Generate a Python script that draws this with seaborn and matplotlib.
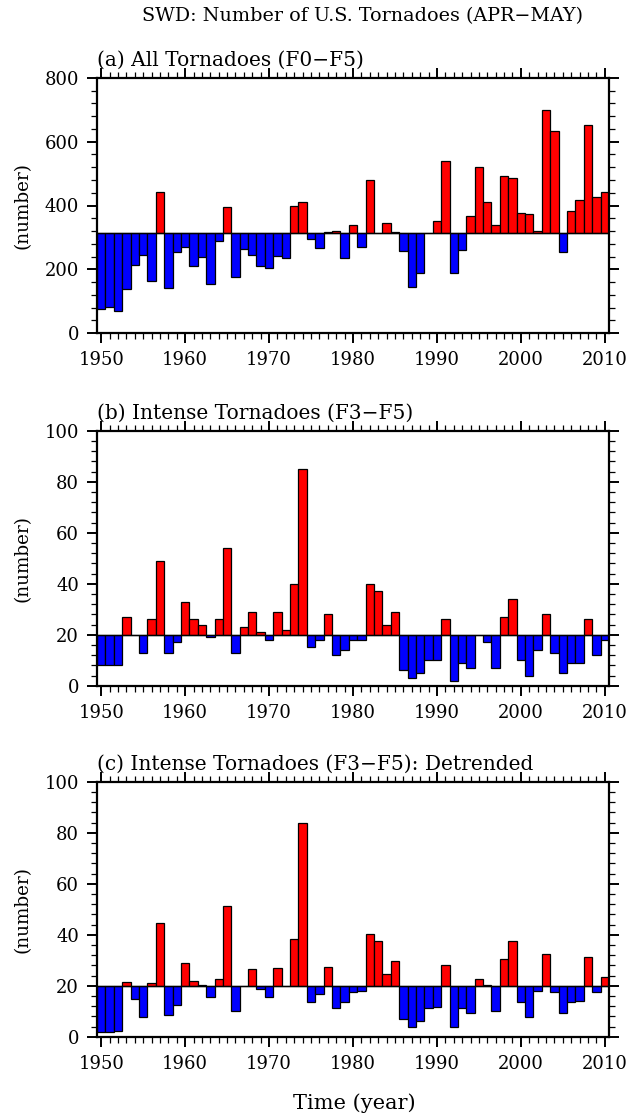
import numpy as np
import pandas as pd
import matplotlib
matplotlib.use("Agg")
import matplotlib.pyplot as plt
from matplotlib.ticker import MultipleLocator
import seaborn as sns

years = list(range(1950, 2011))

# (a) all tornadoes F0-F5
all_tor = [75, 82, 69, 139, 212, 246, 162, 442, 142, 254,
           270, 209, 240, 154, 290, 396, 176, 264, 246, 211,
           204, 241, 235, 400, 411, 295, 267, 316, 320, 234,
           340, 270, 479, 314, 344, 316, 256, 144, 188, 313,
           350, 540, 188, 260, 366, 522, 411, 339, 493, 486,
           377, 373, 320, 699, 634, 254, 383, 418, 652, 427, 442]

# (b) intense tornadoes F3-F5
intense = [8, 8, 8, 27, 20, 13, 26, 49, 13, 17,
           33, 26, 24, 19, 26, 54, 13, 23, 29, 21,
           18, 29, 22, 40, 85, 15, 18, 28, 12, 14,
           18, 18, 40, 37, 24, 29, 6, 3, 5, 10,
           10, 26, 2, 9, 7, 20, 17, 7, 27, 34,
           10, 4, 14, 28, 13, 5, 9, 9, 26, 12, 18]

# (c) intense tornadoes, detrended
detrended = [1.8, 2.0, 2.2, 21.5, 14.6, 7.7, 21, 44.4, 8.4, 12.6,
             29, 22, 20.1, 15.4, 22.6, 51.2, 10, 20, 26.5, 18.6,
             15.7, 27, 20, 38.5, 84, 13.8, 16.9, 27.2, 11.3, 13.5,
             17.7, 18, 40.3, 37.5, 24.7, 29.8, 6.8, 3.9, 6.3, 11.4,
             11.5, 28, 3.9, 11.2, 9.4, 22.7, 20.1, 10, 30.4, 37.5,
             13.5, 7.7, 18, 32.4, 17.5, 9.4, 13.8, 14, 31.2, 17.5, 23.6]

baselines = [315, 20, 20]
panel_titles = ["(a) All Tornadoes (F0\u2212F5)",
                "(b) Intense Tornadoes (F3\u2212F5)",
                "(c) Intense Tornadoes (F3\u2212F5): Detrended"]
y_tops = [800, 100, 100]
y_major = [200, 20, 20]
y_minor = [40, 4, 4]

sns.set_style("ticks")
plt.rcParams["font.family"] = ["DejaVu Serif"]
plt.rcParams["font.size"] = 13
plt.rcParams["text.color"] = "black"
plt.rcParams["axes.labelcolor"] = "black"
plt.rcParams["xtick.color"] = "black"
plt.rcParams["ytick.color"] = "black"

fig = plt.figure(figsize=(6.31, 11.18), dpi=100)
W, H = 631, 1118
left, width, height = 97 / W, 512 / W, 255 / H
bottoms = [1 - 333 / H, 1 - 685.7 / H, 1 - 1036.7 / H]

for i, vals in enumerate([all_tor, intense, detrended]):
    ax = fig.add_axes([left, bottoms[i], width, height])
    base = baselines[i]
    anom = np.array(vals, dtype=float) - base
    df = pd.DataFrame({"year": years, "anom": anom,
                       "sign": np.where(anom >= 0, "pos", "neg")})
    sns.barplot(data=df, x="year", y="anom", hue="sign",
                hue_order=["pos", "neg"],
                palette={"pos": "#ff0000", "neg": "#0000ff"},
                native_scale=True, width=1, dodge=False, errorbar=None,
                legend=False, bottom=base, edgecolor="black",
                linewidth=0.9, saturation=1, ax=ax)
    ax.axhline(base, color="black", lw=1.0, zorder=3)

    ax.set_xlim(1949.5, 2010.5)
    ax.set_ylim(0, y_tops[i])
    ax.xaxis.set_major_locator(MultipleLocator(10))
    ax.xaxis.set_minor_locator(MultipleLocator(1))
    ax.yaxis.set_major_locator(MultipleLocator(y_major[i]))
    ax.yaxis.set_minor_locator(MultipleLocator(y_minor[i]))
    ax.xaxis.set_major_formatter(matplotlib.ticker.FormatStrFormatter("%d"))

    ax.tick_params(which="both", direction="out", top=True, right=True,
                   labelsize=13, color="black", labelcolor="black")
    ax.tick_params(which="major", length=7, width=1.4, pad=6)
    ax.tick_params(which="minor", length=4.5, width=0.9)
    for sp in ax.spines.values():
        sp.set_linewidth(1.6)
        sp.set_color("black")
        sp.set_zorder(5)

    ax.set_xlabel("")
    ax.set_ylabel("(number)", fontsize=13.2, color="black")
    ax.yaxis.set_label_coords(-0.128, 0.5)
    ax.text(0, 1.047, panel_titles[i], transform=ax.transAxes,
            ha="left", va="baseline", fontsize=14.5, color="black")

fig.text(0.575, 1 - 16 / H, "SWD: Number of U.S. Tornadoes (APR\u2212MAY)",
         ha="center", va="center", fontsize=13.8, color="black")
fig.text(0.561, 1 - 1103 / H, "Time (year)", ha="center", va="center",
         fontsize=15, color="black")

fig.savefig("out.png", dpi=100, facecolor="white")
